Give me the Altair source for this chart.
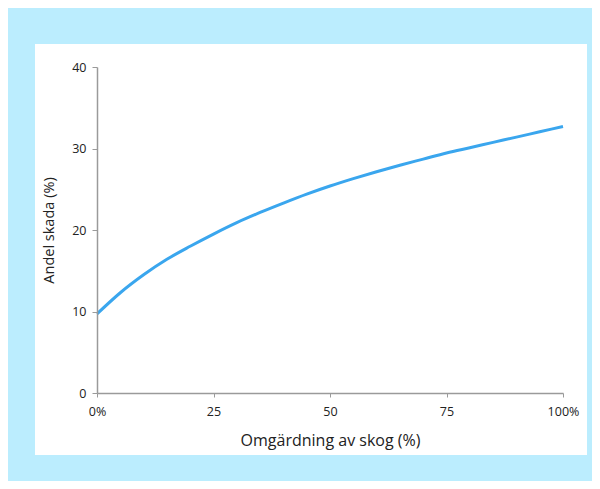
import altair as alt
import pandas as pd

x_vals = [0, 5, 10, 15, 20, 25, 30, 35, 40, 45, 50, 55, 60, 65, 70, 75, 80, 85, 90, 95, 100]
y_vals = [9.7, 12.3, 14.5, 16.4, 18.0, 19.5, 20.9, 22.15, 23.3, 24.4, 25.4, 26.3, 27.15, 27.95, 28.7,
          29.45, 30.1, 30.75, 31.4, 32.05, 32.7]
x_ticks = [0, 25, 50, 75, 100]
y_ticks = [0, 10, 20, 30, 40]

df = pd.DataFrame({"x": x_vals, "y": y_vals})

FONT = "Open Sans"

panel = alt.Chart(pd.DataFrame({"a": [0]})).mark_rect(color="white").encode(
    x=alt.value(-62), x2=alt.value(490), y=alt.value(-23), y2=alt.value(388)
)

line = alt.Chart(df).mark_line(color="#3aa6ee", strokeWidth=3, interpolate="monotone").encode(
    x=alt.X("x:Q", scale=alt.Scale(domain=[0, 100], nice=False),
            axis=alt.Axis(values=x_ticks, title="Omgärdning av skog (%)",
                          labelExpr="datum.value == 0 ? '0%' : datum.value == 100 ? '100%' : datum.value",
                          labelFlush=False, labelFontSize=12.5, titleFontSize=16,
                          tickSize=4, labelPadding=8, titlePadding=15, grid=False, zindex=1)),
    y=alt.Y("y:Q", scale=alt.Scale(domain=[0, 40], nice=False),
            axis=alt.Axis(values=y_ticks, title="Andel skada (%)", tickSize=5,
                          labelFontSize=12.5, titleFontSize=14.5,
                          labelPadding=6, titlePadding=15, grid=False, zindex=1)),
)

chart = alt.layer(panel, line).properties(
    width=466, height=326,
    padding={"left": 89, "top": 59, "right": 29, "bottom": 88},
    autosize=alt.AutoSizeParams(type="none"),
    background="#bbedfe",
).configure_view(stroke=None).configure_axis(
    domainColor="#9a9a9a", tickColor="#9a9a9a", domainWidth=1.5,
    labelColor="#222222", titleColor="#222222", labelFont=FONT, titleFont=FONT,
    titleFontWeight="normal",
)

chart.save("out.html", embed_options={"renderer": "svg", "actions": False})
